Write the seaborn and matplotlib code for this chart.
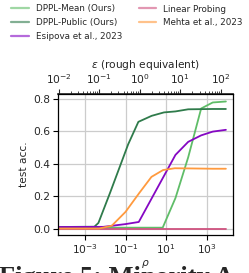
import numpy as np
import pandas as pd
import matplotlib
matplotlib.use("Agg")
import matplotlib.pyplot as plt
import seaborn as sns
from matplotlib.lines import Line2D

# ---------------- data ----------------
series_names = ["DPPL-Mean (Ours)", "DPPL-Public (Ours)", "Esipova et al., 2023",
                "Linear Probing", "Mehta et al., 2023"]
series_colors = ["#5fbd68", "#2f7b4b", "#8507c3", "#cf527f", "#ff9a3e"]

mean_rho = [4.7e-5, 6.8, 29, 123, 537, 2000, 8900]
mean_acc = [0.008, 0.008, 0.19, 0.44, 0.74, 0.777, 0.783]

public_rho = [4.7e-5, 2.9e-3, 4.6e-3, 0.017, 0.135, 0.43, 1.95, 7.9, 29, 123, 537, 2000, 8900]
public_acc = [0.012, 0.014, 0.037, 0.22, 0.52, 0.658, 0.695, 0.716, 0.722, 0.735, 0.736, 0.737, 0.737]

esipova_rho = [4.7e-5, 7.9e-3, 0.1, 0.45, 29, 123, 537, 2000, 8900]
esipova_acc = [0.012, 0.013, 0.03, 0.043, 0.455, 0.535, 0.575, 0.598, 0.609]

linear_rho = [4.7e-5, 0.1, 8900]
linear_acc = [0.0, 0.0, 0.0]

mehta_rho = [4.7e-5, 5e-3, 0.021, 0.1, 0.47, 1.9, 7.1, 27, 123, 537, 2000, 8900]
mehta_acc = [0.003, 0.003, 0.02, 0.105, 0.22, 0.32, 0.362, 0.373, 0.372, 0.371, 0.37, 0.37]

series_rho = [mean_rho, public_rho, esipova_rho, linear_rho, mehta_rho]
series_acc = [mean_acc, public_acc, esipova_acc, linear_acc, mehta_acc]

frames = [pd.DataFrame({"rho": r, "acc": a, "method": n})
          for r, a, n in zip(series_rho, series_acc, series_names)]
df = pd.concat(frames, ignore_index=True)

# ---------------- style ----------------
sns.set_theme(style="ticks")
plt.rcParams["font.family"] = ["DejaVu Sans"]

W, H = 249, 273
fig = plt.figure(figsize=(W / 100, H / 100), dpi=100)
ax = fig.add_axes([58 / W, 1 - 235 / H, (233 - 58) / W, (235 - 94) / H])

for name, col in zip(series_names, series_colors):
    sub = df[df["method"] == name]
    sns.lineplot(data=sub, x="rho", y="acc", color=col, linewidth=1.3,
                 ax=ax, legend=False, estimator=None, sort=False)

ax.set_xscale("log")
ax.set_xlim(10 ** -4.33, 10 ** 4.3)
ax.set_ylim(-0.037, 0.829)
ax.set_yticks([0.0, 0.2, 0.4, 0.6, 0.8])
ax.grid(True, color="#cccccc", linewidth=0.9)
ax.set_axisbelow(True)
for s in ax.spines.values():
    s.set_color("black")
    s.set_linewidth(0.9)
ax.tick_params(axis="both", labelsize=7.7, length=3.5, width=0.8, color="black", pad=2)
ax.tick_params(axis="x", which="minor", length=0)
ax.set_xlabel(r"$\rho$", fontsize=7.7, labelpad=1)
ax.set_ylabel("test acc.", fontsize=7.7, labelpad=3)

sec = ax.secondary_xaxis("top", functions=(lambda r: np.sqrt(2 * np.clip(r, 1e-300, None)),
                                           lambda e: e ** 2 / 2))
sec.set_xscale("log")
sec.tick_params(axis="x", labelsize=7.7, length=3.5, width=0.8, pad=2)
sec.tick_params(axis="x", which="minor", length=2, width=0.6)
sec.spines["top"].set_linewidth(1.2)
sec.set_xlabel(r"$\varepsilon$ (rough equivalent)", fontsize=7.7, labelpad=3)

handles = [Line2D([0], [0], color=c, lw=1.6, alpha=0.6) for c in series_colors]
fig.legend(handles, series_names, loc="upper left", ncol=2, frameon=False,
           fontsize=6.35, bbox_to_anchor=(11.3 / W, 1 - 4.5 / H),
           borderaxespad=0, borderpad=0, handlelength=2.0, handletextpad=0.75,
           columnspacing=1.9, labelspacing=0.52)

fig.text(-1 / W, -11 / H, "Figure 5: Minority A", fontsize=19, fontweight="bold",
         family=["Liberation Serif", "DejaVu Serif"], va="baseline", ha="left")

fig.savefig("out.png", dpi=100)
